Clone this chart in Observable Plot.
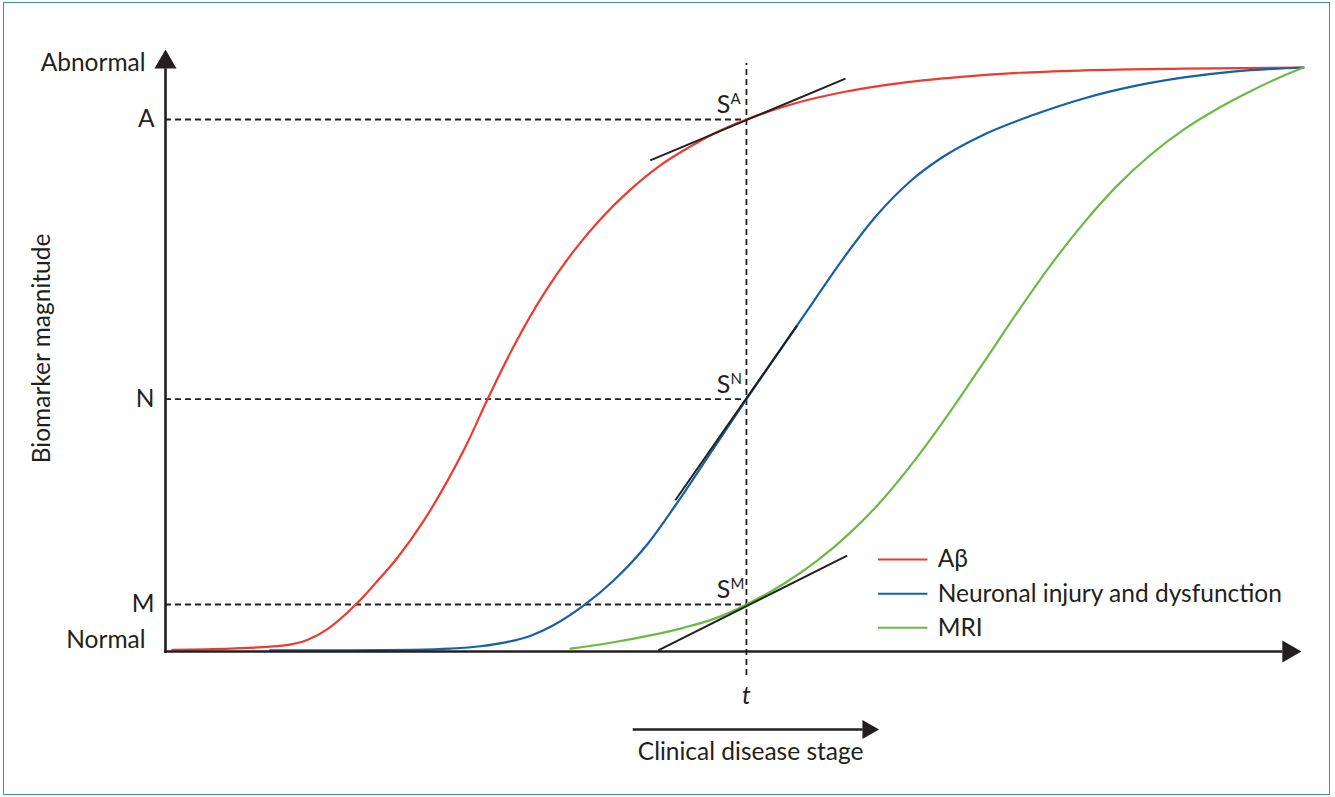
<!DOCTYPE html>
<html><head><meta charset="utf-8">
<script src="https://cdn.jsdelivr.net/npm/d3@7"></script>
<script src="https://cdn.jsdelivr.net/npm/@observablehq/plot@0.6"></script>
<style>
html,body{margin:0;padding:0;background:#fff;}
#wrap{position:relative;width:1335px;height:797px;overflow:hidden;}
#frame{position:absolute;left:3px;top:2px;width:1327px;height:793px;border:1.6px solid #3f9b77;box-sizing:border-box;pointer-events:none;}
#wrap svg{position:absolute;left:0;top:0;}
</style></head><body>
<div id="wrap"><div id="frame"></div></div>
<script>
// ---- data (x = clinical disease stage 0–100, y = biomarker magnitude 0 normal – 1 abnormal)
const seriesNames = ["Aβ", "Neuronal injury and dysfunction", "MRI"];
const seriesColors = ["#ef3a2d", "#1560a8", "#6cb944"];

const abetaStage = [0.6, 5.7, 10.3, 12.5, 14.2, 16.7, 18.5, 20.4, 22.7, 24.8, 26.5, 28.3, 30.8, 33.3, 35.8, 38.3, 40.8, 43.3, 45.8, 48.3, 51.05, 55.2, 59.6, 64.0, 69.9, 75.1, 80.7, 89.5, 100];
const abetaMag   = [0.003, 0.005, 0.010, 0.020, 0.038, 0.080, 0.118, 0.161, 0.224, 0.293, 0.356, 0.432, 0.530, 0.614, 0.684, 0.742, 0.790, 0.830, 0.861, 0.888, 0.911, 0.938, 0.958, 0.972, 0.984, 0.991, 0.995, 0.998, 1.0];

const neuroStage = [9.2, 16.3, 21.8, 25.0, 27.7, 30.0, 32.1, 34.0, 36.7, 39.4, 42.4, 44.8, 47.9, 51.05, 54.0, 57.0, 59.6, 62.6, 65.5, 68.4, 71.9, 76.3, 80.7, 85.1, 89.5, 93.8, 100];
const neuroMag   = [0.002, 0.002, 0.003, 0.005, 0.009, 0.016, 0.027, 0.044, 0.078, 0.122, 0.185, 0.250, 0.340, 0.432, 0.516, 0.601, 0.674, 0.749, 0.806, 0.848, 0.885, 0.919, 0.947, 0.968, 0.983, 0.993, 1.0];

const mriStage = [35.6, 39.0, 42.6, 45.5, 48.5, 51.05, 54.3, 57.3, 60.2, 63.1, 66.1, 69.0, 71.9, 74.9, 77.8, 80.7, 83.7, 86.6, 89.5, 92.4, 95.3, 97.5, 100];
const mriMag   = [0.005, 0.0145, 0.0275, 0.0405, 0.058, 0.0805, 0.1156, 0.156, 0.204, 0.262, 0.334, 0.412, 0.495, 0.582, 0.662, 0.734, 0.799, 0.851, 0.894, 0.929, 0.959, 0.9795, 1.0];

const tStage = 51.05;
const levelLabels = ["A", "N", "M"];
const levelValues = [0.911, 0.432, 0.0805];
const slopeLabels = ["A", "N", "M"];
const tangentX1 = [42.6, 44.8, 43.3];
const tangentY1 = [0.841, 0.259, 0.002];
const tangentX2 = [59.75, 55.5, 59.9];
const tangentY2 = [0.981, 0.558, 0.164];

// ---- build tables
const stages = [abetaStage, neuroStage, mriStage];
const mags = [abetaMag, neuroMag, mriMag];
const curves = seriesNames.map((name, i) => stages[i].map((s, j) => ({series: name, stage: s, mag: mags[i][j]})));
const levels = levelLabels.map((l, i) => ({label: l, v: levelValues[i]}));
const tangents = slopeLabels.map((l, i) => ({label: l, x1: tangentX1[i], y1: tangentY1[i], x2: tangentX2[i], y2: tangentY2[i], v: levelValues[i]}));
const legendItems = seriesNames.map((n, i) => ({name: n, color: seriesColors[i], i}));

const ink = "#231f20";
const font = "Lato, 'Open Sans', sans-serif";
const fs = 24.5;

const legendX1 = 62.65, legendX2 = 67.0, legendTextX = 67.85, legendY0 = 0.1575, legendStep = 0.0585;

const marks = [
  // reference dashes
  Plot.ruleY(levels, {y: "v", x1: 0, x2: tStage, stroke: ink, strokeWidth: 1.8, strokeDasharray: "6,4"}),
  Plot.ruleX([tStage], {y1: -0.041, y2: 1.007, stroke: ink, strokeWidth: 1.8, strokeDasharray: "6,4"}),
  // curves
  ...curves.map((c, i) => Plot.line(c, {x: "stage", y: "mag", stroke: seriesColors[i], strokeWidth: 2.2, curve: "monotone-x"})),
  // tangents
  Plot.link(tangents, {x1: "x1", y1: "y1", x2: "x2", y2: "y2", stroke: ink, strokeWidth: 2}),
  // axes
  Plot.ruleX([0], {y1: -0.003, y2: 0.998, stroke: ink, strokeWidth: 2.6}),
  Plot.ruleY([0], {x1: -0.1, x2: 98.2, stroke: ink, strokeWidth: 2.6}),
  Plot.dot([{x: 0, y: 1.0092}], {x: "x", y: "y", symbol: "triangle", r: 8.2, fill: ink, stroke: null}),
  Plot.dot([{x: 98.7, y: 0}], {x: "x", y: "y", symbol: "triangle", r: 8.2, rotate: 90, fill: ink, stroke: null}),
  // clinical stage arrow
  Plot.ruleY([-0.1336], {x1: 41.1, x2: 61.3, stroke: ink, strokeWidth: 2.4}),
  Plot.dot([{x: 61.73, y: -0.1336}], {x: "x", y: "y", symbol: "triangle", r: 7.1, rotate: 90, fill: ink, stroke: null}),
  Plot.text(["Clinical disease stage"], {x: 41.5, y: -0.173, text: d => d, textAnchor: "start", fontSize: fs, fill: ink}),
  Plot.text(["t"], {x: tStage, y: -0.077, text: d => d, fontSize: fs, fontStyle: "italic", fill: ink}),
  // y labels
  Plot.text(["Abnormal"], {x: 0, y: 1.007, text: d => d, textAnchor: "end", dx: -20, fontSize: fs, fill: ink}),
  Plot.text(["Normal"], {x: 0, y: 0.0188, text: d => d, textAnchor: "end", dx: -20, fontSize: fs, fill: ink}),
  Plot.text(levels, {x: 0, y: "v", text: "label", textAnchor: "end", dx: -11, fontSize: fs, fill: ink}),
  Plot.text(["Biomarker magnitude"], {x: 0, y: 0.519, text: d => d, rotate: -90, dx: -123, fontSize: fs, fill: ink}),
  // slope labels
  Plot.text(tangents, {x: tStage, y: "v", text: d => "S", textAnchor: "end", lineAnchor: "bottom", dx: -16, dy: -6, fontSize: 25, fill: ink}),
  Plot.text(tangents, {x: tStage, y: "v", text: "label", textAnchor: "start", lineAnchor: "bottom", dx: -16, dy: -15, fontSize: 15, fill: ink}),
  // legend
  Plot.ruleY(legendItems, {y: d => legendY0 - d.i * legendStep, x1: legendX1, x2: legendX2, stroke: d => d.color, strokeWidth: 2}),
  Plot.text(legendItems, {x: legendTextX, y: d => legendY0 - d.i * legendStep, text: "name", textAnchor: "start", fontSize: fs, fill: ink})
];

const chart = Plot.plot({
  width: 1335,
  height: 797,
  x: {domain: [0, 100], range: [165, 1303], axis: null},
  y: {domain: [0, 1], range: [651, 67], axis: null},
  style: {fontFamily: font, background: "transparent", overflow: "visible"},
  marks
});
document.getElementById("wrap").prepend(chart);
</script>
</body></html>
